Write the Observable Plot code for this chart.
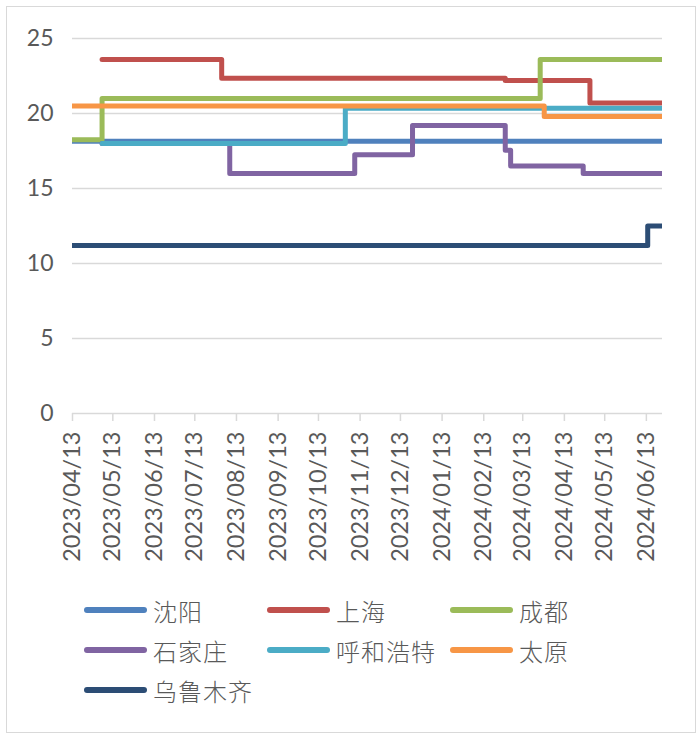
<!DOCTYPE html>
<html>
<head>
<meta charset="utf-8">
<script src="https://cdn.jsdelivr.net/npm/d3@7"></script>
<script src="https://cdn.jsdelivr.net/npm/@observablehq/plot@0.6"></script>
<style>
  html, body { margin: 0; padding: 0; background: #fff; }
  #wrap { position: relative; width: 700px; height: 737px; overflow: hidden; }
  #border { position: absolute; left: 6px; top: 6px; width: 688px; height: 725px; border: 1px solid #d9d9d9; pointer-events: none; }
  #legend { position: absolute; left: 0; top: 590px; width: 700px; font-family: "Noto Sans CJK SC", sans-serif; font-size: 24px; font-weight: 300; letter-spacing: 1px; color: #595959; }
  .item { position: absolute; display: flex; align-items: center; height: 40px; }
  .sw { width: 63px; height: 6px; border-radius: 3px; margin-right: 6px; }
</style>
</head>
<body>
<div id="wrap">
  <div id="chart"></div>
  <div id="legend"></div>
  <div id="border"></div>
</div>
<script>
// ---- data ----
const cities = ["沈阳", "上海", "成都", "石家庄", "呼和浩特", "太原", "乌鲁木齐"];
const colors = ["#4F81BD", "#C0504D", "#9BBB59", "#8064A2", "#4BACC6", "#F79646", "#2C4D75"];

const shenyangDates = ["2023-04-13", "2024-06-25"];
const shenyangValues = [18.15, 18.15];

const shanghaiDates = ["2023-05-05", "2023-08-02", "2024-02-29", "2024-05-02", "2024-06-25"];
const shanghaiValues = [23.6, 22.35, 22.2, 20.7, 20.7];

const chengduDates = ["2023-04-13", "2023-05-05", "2024-03-26", "2024-06-25"];
const chengduValues = [18.25, 21.0, 23.6, 23.6];

const shijiazhuangDates = ["2023-05-05", "2023-08-08", "2023-11-09", "2023-12-22", "2024-02-29", "2024-03-04", "2024-04-27", "2024-06-25"];
const shijiazhuangValues = [18.0, 16.0, 17.25, 19.2, 17.55, 16.5, 16.0, 16.0];

const huhehaoteDates = ["2023-05-05", "2023-11-02", "2024-06-25"];
const huhehaoteValues = [18.0, 20.35, 20.35];

const taiyuanDates = ["2023-04-13", "2024-03-29", "2024-06-25"];
const taiyuanValues = [20.5, 19.8, 19.8];

const wulumuqiDates = ["2023-04-13", "2024-06-14", "2024-06-25"];
const wulumuqiValues = [11.2, 12.5, 12.5];

const xTickLabels = ["2023/04/13", "2023/05/13", "2023/06/13", "2023/07/13", "2023/08/13", "2023/09/13", "2023/10/13",
  "2023/11/13", "2023/12/13", "2024/01/13", "2024/02/13", "2024/03/13", "2024/04/13", "2024/05/13", "2024/06/13"];
const yTicks = [0, 5, 10, 15, 20, 25];

// ---- build ----
const seriesDates = [shenyangDates, shanghaiDates, chengduDates, shijiazhuangDates, huhehaoteDates, taiyuanDates, wulumuqiDates];
const seriesValues = [shenyangValues, shanghaiValues, chengduValues, shijiazhuangValues, huhehaoteValues, taiyuanValues, wulumuqiValues];
const parse = s => new Date(s.replace(/\//g, "-") + "T00:00:00Z");
const xTicks = xTickLabels.map(parse);

const lineMarks = cities.map((c, k) => {
  const rows = seriesDates[k].map((d, i) => ({date: parse(d), value: seriesValues[k][i], city: c}));
  return Plot.line(rows, {
    x: "date", y: "value", curve: "step-after",
    stroke: colors[k], strokeWidth: 5, strokeLinecap: "round", strokeLinejoin: "round", clip: true
  });
});

const chart = Plot.plot({
  width: 700, height: 575,
  marginTop: 38, marginBottom: 162, marginLeft: 72, marginRight: 38,
  x: {type: "utc", domain: [parse("2023-04-13"), parse("2024-06-25")]},
  y: {domain: [0, 25]},
  style: {fontFamily: "Lato, sans-serif", fontSize: "22px", color: "#595959", background: "transparent"},
  marks: [
    Plot.gridY(yTicks.filter(d => d > 0), {stroke: "#d9d9d9", strokeOpacity: 1, strokeWidth: 1.5}),
    Plot.ruleY([0], {stroke: "#d9d9d9", strokeWidth: 1.5}),
    Plot.axisY(yTicks, {tickSize: 0, tickPadding: 19, fill: "#595959", fontSize: 23, label: null}),
    Plot.axisX(xTicks, {tickSize: 8, tickPadding: 10, tickRotate: -90, tickFormat: d3.utcFormat("%Y/%m/%d"),
      stroke: "#d9d9d9", strokeWidth: 1.5, fill: "#595959", fontSize: 23.5, label: null}),
    ...lineMarks
  ]
});
document.getElementById("chart").appendChild(chart);

// ---- legend ----
const legend = document.getElementById("legend");
const colX = [84, 267, 450];
cities.forEach((c, k) => {
  const el = document.createElement("div");
  el.className = "item";
  el.style.left = colX[k % 3] + "px";
  el.style.top = (Math.floor(k / 3) * 40) + "px";
  el.innerHTML = `<span class="sw" style="background:${colors[k]}"></span><span>${c}</span>`;
  legend.appendChild(el);
});
</script>
</body>
</html>
